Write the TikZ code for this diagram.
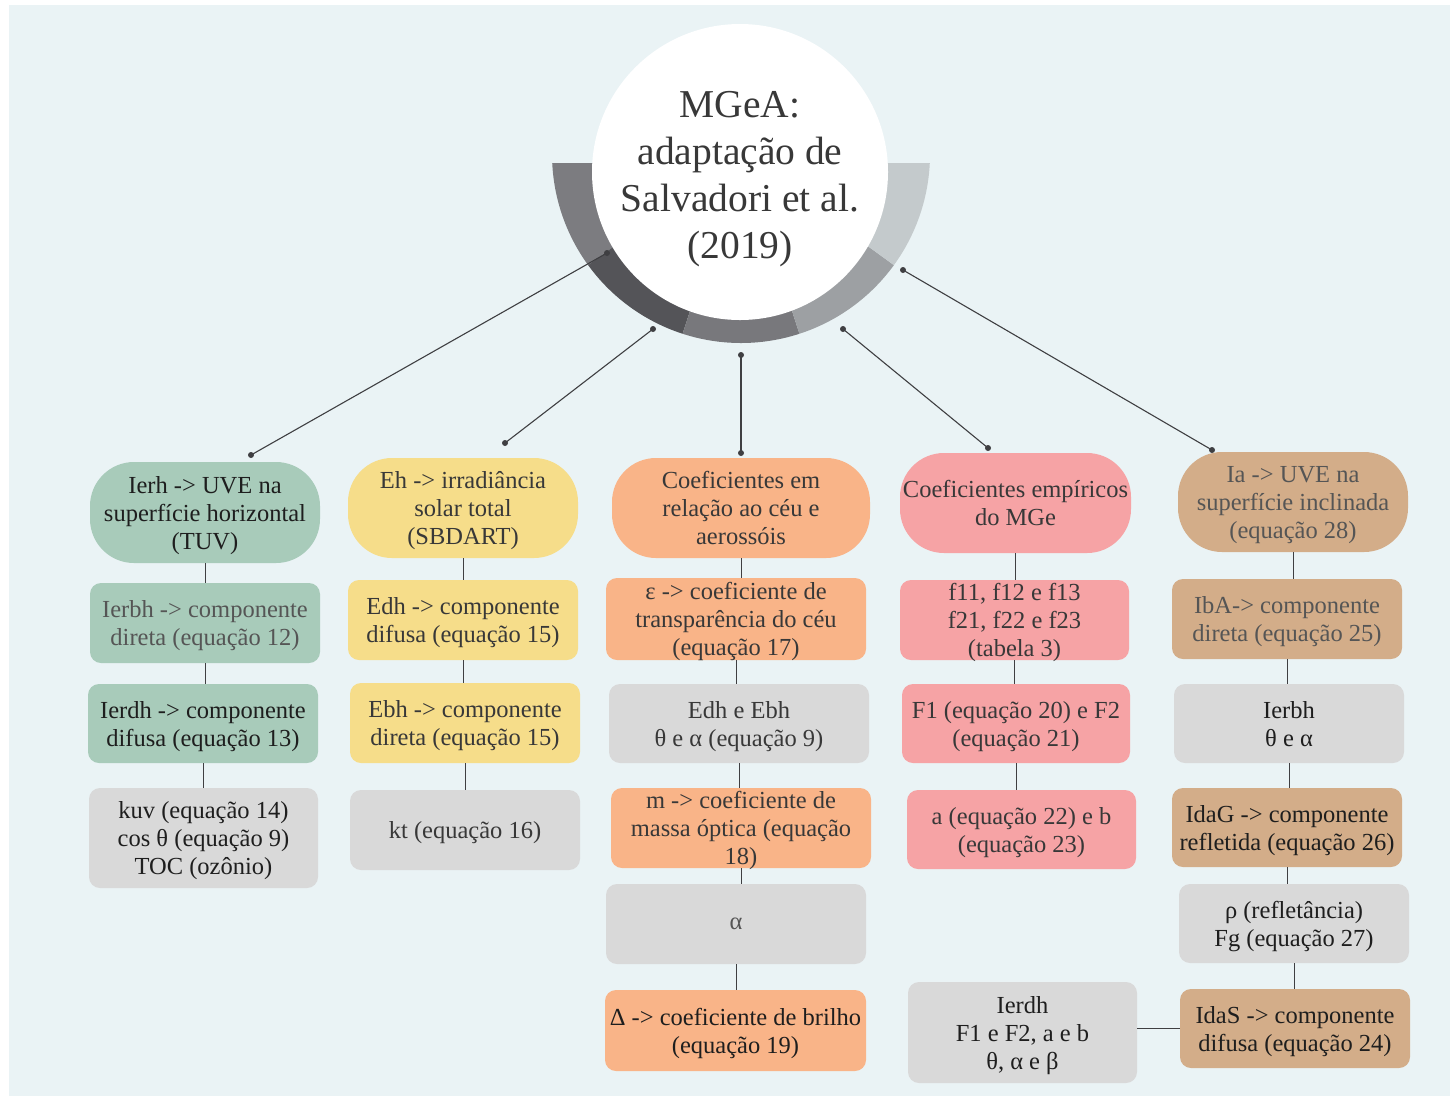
\documentclass[tikz,border=0pt]{standalone}
\usepackage{fontspec}
\setmainfont{Liberation Serif}
\usetikzlibrary{calc}
\definecolor{bg}{HTML}{EAF3F5}
\definecolor{teal}{HTML}{A8CBBA}
\definecolor{yel}{HTML}{F6DD8A}
\definecolor{ora}{HTML}{F9B488}
\definecolor{pnk}{HTML}{F6A3A5}
\definecolor{tan}{HTML}{D3AD89}
\definecolor{gry}{HTML}{D9D9D9}
\definecolor{lk}{HTML}{3F3F42}
\definecolor{tdark}{HTML}{1E1E1E}
\definecolor{tmid}{HTML}{383838}
\definecolor{tgray}{HTML}{555555}
\definecolor{rgA}{HTML}{7C7C80}
\definecolor{rgB}{HTML}{545458}
\definecolor{rgC}{HTML}{78787C}
\definecolor{rgD}{HTML}{9DA0A3}
\definecolor{rgE}{HTML}{C4CACC}
\begin{document}
\begin{tikzpicture}[x=1pt,y=1pt,
  box/.style={rectangle, rounded corners=11pt, minimum width=230pt, minimum height=80pt,
    align=center, inner sep=1pt, text depth=0pt, font=\fontsize{24.5}{28}\selectfont, text=tmid},
  head/.style={box, rounded corners=44pt, minimum height=100pt},
  link/.style={draw=lk, line width=1.1pt},
  dot/.style={circle, fill=lk, inner sep=0pt, minimum size=6pt},
  ttl/.style={align=center, font=\fontsize{39.5}{47}\selectfont, text=tmid}]
\useasboundingbox (0,0) rectangle (1450,-1096);
\fill[bg] (9,-5) rectangle (1450,-1096);
% ring
\coordinate (rc) at (741,-154);
\begin{scope}
\clip (500,-163) rectangle (1000,-400);
\foreach \a/\b/\c in {170/216/rgA,216/252/rgB,252/288/rgC,288/324/rgD,324/370/rgE}{
  \fill[\c] ($(rc)+(\a:189)$) arc[start angle=\a,end angle=\b,radius=189]
     -- ($(rc)+(\b:135)$) arc[start angle=\b,end angle=\a,radius=135] -- cycle;
}
\end{scope}
\fill[white] (740,-172) circle[radius=148];
\node[ttl] (title) at (740,-179) {MGeA:\\adaptação de\\Salvadori et al.\\(2019)};
% dots and links
\node[dot] (d1) at (607,-253) {};
\node[dot] (d2) at (653,-329) {};
\node[dot] (d3) at (741,-355) {};
\node[dot] (d4) at (843,-329) {};
\node[dot] (d5) at (903,-270) {};
\node[dot] (e1) at (251,-455) {};
\node[dot] (e2) at (505,-443) {};
\node[dot] (e3) at (741,-453) {};
\node[dot] (e4) at (988,-448) {};
\node[dot] (e5) at (1212,-450) {};
\foreach \i in {1,...,5}{\draw[link] (d\i.center) -- (e\i.center);}
% column 1
\node[head, fill=teal, text=tdark, minimum height=101pt] (h1) at (205,-512.5) {Ierh -> UVE na\\superfície horizontal\\(TUV)};
\node[box, fill=teal, text=tgray] (b1a) at (205,-623) {Ierbh -> componente\\direta (equação 12)};
\node[box, fill=teal, text=tdark, minimum height=79pt] (b1b) at (203,-723.5) {Ierdh -> componente\\difusa (equação 13)};
\node[box, fill=gry, text=tdark, minimum width=229pt, minimum height=100pt] (b1c) at (203.5,-838) {kuv (equação 14)\\cos θ (equação 9)\\TOC (ozônio)};
% column 2
\node[head, fill=yel] (h2) at (463,-508) {Eh -> irradiância\\solar total\\(SBDART)};
\node[box, fill=yel] (b2a) at (463,-620) {Edh -> componente\\difusa (equação 15)};
\node[box, fill=yel] (b2b) at (465,-723) {Ebh -> componente\\direta (equação 15)};
\node[box, fill=gry] (b2c) at (465,-830) {kt (equação 16)};
% column 3
\node[head, fill=ora, minimum width=258pt] (h3) at (741,-508) {Coeficientes em\\relação ao céu e\\aerossóis};
\node[box, fill=ora, minimum width=260pt, minimum height=82pt] (b3a) at (736,-619) {ε -> coeficiente de\\transparência do céu\\(equação 17)};
\node[box, fill=gry, minimum width=260pt, minimum height=79pt] (b3b) at (739,-723.5) {Edh e Ebh\\θ e α (equação 9)};
\node[box, fill=ora, minimum width=260pt] (b3c) at (741,-828) {m -> coeficiente de\\massa óptica (equação\\18)};
\node[box, fill=gry, text=tgray, minimum width=260pt] (b3d) at (736,-924) {α};
\node[box, fill=ora, text=tdark, minimum width=261pt, minimum height=81pt] (b3e) at (735.5,-1030.5) {Δ -> coeficiente de brilho\\(equação 19)};
% column 4
\node[head, fill=pnk, minimum width=231pt] (h4) at (1015.5,-503) {Coeficientes empíricos\\do MGe};
\node[box, fill=pnk, minimum width=229pt] (b4a) at (1014.5,-620) {f11, f12 e f13\\f21, f22 e f23\\(tabela 3)};
\node[box, fill=pnk, minimum width=228pt, minimum height=79pt] (b4b) at (1016,-723.5) {F1 (equação 20) e F2\\(equação 21)};
\node[box, fill=pnk, minimum width=229pt, minimum height=79pt] (b4c) at (1021.5,-829.5) {a (equação 22) e b\\(equação 23)};
\node[box, fill=gry, text=tdark, minimum width=229pt, minimum height=101pt] (b4d) at (1022.5,-1032.5) {Ierdh\\F1 e F2, a e b\\θ, α e β};
% column 5
\node[head, fill=tan, text=tgray] (h5) at (1293,-502) {Ia -> UVE na\\superfície inclinada\\(equação 28)};
\node[box, fill=tan, text=tgray] (b5a) at (1287,-619) {IbA-> componente\\direta (equação 25)};
\node[box, fill=gry, text=tdark, minimum height=79pt] (b5b) at (1289,-723.5) {Ierbh\\θ e α};
\node[box, fill=tan, text=tdark, minimum height=79pt] (b5c) at (1287,-827.5) {IdaG -> componente\\refletida (equação 26)};
\node[box, fill=gry, text=tdark, minimum height=79pt] (b5d) at (1294,-923.5) {ρ (refletância)\\Fg (equação 27)};
\node[box, fill=tan, text=tdark, minimum height=79pt] (b5e) at (1295,-1028.5) {IdaS -> componente\\difusa (equação 24)};
% vertical links
\foreach \u/\v in {h1/b1a,b1a/b1b,b1b/b1c,h2/b2a,b2a/b2b,b2b/b2c,h3/b3a,b3a/b3b,b3b/b3c,b3c/b3d,b3d/b3e,h4/b4a,b4a/b4b,b4b/b4c,h5/b5a,b5a/b5b,b5b/b5c,b5c/b5d,b5d/b5e}{
  \draw[link, line width=0.9pt] (\u.south) -- (\u.south |- \v.north);
}
\draw[link, line width=0.9pt] (b4d.east |- b5e.west) -- (b5e.west);
\end{tikzpicture}
\end{document}
